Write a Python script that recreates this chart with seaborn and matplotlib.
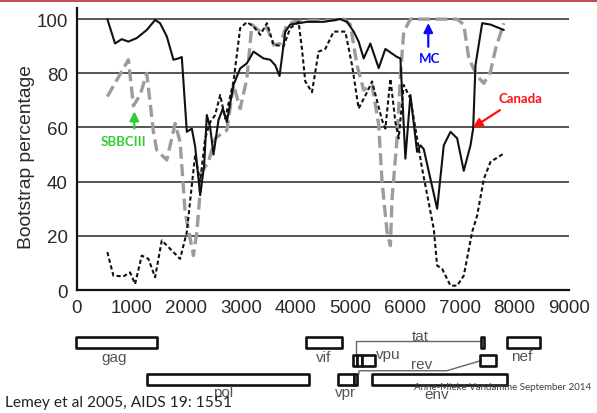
import matplotlib
matplotlib.use("Agg")
import matplotlib.pyplot as plt
import matplotlib.patches as mpatches
import pandas as pd
import seaborn as sns

# ---------------- data ----------------
solid_x = [555, 696, 818, 940, 1093, 1276, 1429, 1520, 1643, 1764, 1856, 1917, 2009,
           2100, 2161, 2253, 2326, 2375, 2436, 2497, 2588, 2668, 2741, 2863, 2985, 3108,
           3229, 3412, 3535, 3626, 3705, 3810, 3901, 4207, 4512, 4817, 4939, 5061, 5152,
           5244, 5366, 5519, 5641, 5855, 5916, 6007, 6099, 6221, 6282, 6343, 6588, 6709,
           6832, 6954, 7075, 7198, 7247, 7289, 7412, 7564, 7808]
solid_y = [100, 91, 92.6, 91.7, 93, 96, 99.7, 98.5, 93.6, 85, 85.5, 86, 58.4,
           59.6, 53, 35, 46, 64.6, 60, 50, 62.7, 67, 62, 75.7, 81.8, 83.7,
           88, 85.5, 85, 83, 79, 95.4, 98, 99, 99, 100, 99, 95.4, 91.7,
           85.5, 91, 81.9, 89, 86, 85.5, 48.5, 72, 51, 53.4, 52, 30, 53.4,
           58.4, 56, 44, 53.4, 59.6, 83, 98.5, 98, 96]

gray_x = [555, 940, 1032, 1154, 1276, 1398, 1459, 1643, 1795, 1886, 1978, 2130, 2192,
          2283, 2405, 2527, 2741, 2863, 2985, 3108, 3199, 3352, 3474, 3596, 3718, 3840,
          3962, 4300, 4600, 4878, 5000, 5122, 5244, 5397, 5519, 5580, 5672, 5733, 5763,
          5855, 5916, 5977, 6099, 6500, 6954, 7075, 7167, 7320, 7442, 7564, 7656, 7808]
gray_y = [71.4, 85, 68, 72, 80, 58.4, 51.6, 48, 61.5, 54.7, 28.8, 12.7, 21.4,
          43.6, 47.3, 56, 59, 75.7, 67, 78, 98, 95.4, 97, 90.5, 91, 98,
          99, 99.5, 99.5, 100, 98, 83, 73.8, 75.7, 61, 40, 21.4, 16.4, 33.7,
          56, 79, 95.4, 100, 100, 100, 98, 85.5, 79, 76.3, 80.6, 89, 98.5]

dot_x = [555, 665, 848, 971, 1062, 1185, 1306, 1429, 1551, 1886, 2009, 2100, 2161,
         2253, 2344, 2436, 2527, 2619, 2711, 2863, 2985, 3108, 3229, 3352, 3474, 3596,
         3778, 3901, 4053, 4115, 4176, 4298, 4420, 4542, 4695, 4908, 5031, 5152, 5306,
         5397, 5580, 5641, 5733, 5824, 5885, 5977, 6099, 6313, 6526, 6588, 6679, 6832,
         6954, 7075, 7228, 7320, 7442, 7564, 7808]
dot_y = [14, 5.3, 5, 6.5, 2.2, 12.7, 11.5, 4.7, 18.3, 11.5, 21.4, 38.6, 49.7,
         40, 56, 62, 64.6, 72, 63.3, 77, 96.7, 98.9, 97.3, 94.2, 98.5, 90.5,
         90, 96.7, 99, 89, 77, 73, 88, 89, 95.4, 95.4, 83, 67, 73,
         77, 62.7, 59.6, 78, 62, 56, 75.7, 70.7, 44.8, 22.6, 9, 7.8, 1.6,
         1.6, 5.3, 21.4, 27.5, 41, 47.3, 50.4]

x_ticks = [0, 1000, 2000, 3000, 4000, 5000, 6000, 7000, 8000, 9000]
y_ticks = [0, 20, 40, 60, 80, 100]
y_label = "Bootstrap percentage"

# genome map (HXB2-like positions), row index
gene_names = ["gag", "vif", "tat2", "nef", "tat1", "rev1", "vpu", "rev2",
              "pol", "vpr", "x3", "env"]
gene_start = [789, 5041, 8270, 8762, 5904, 5978, 6070, 8257, 2096, 5640, 5928, 6255]
gene_end = [2292, 5700, 8337, 9366, 5978, 6070, 6316, 8553, 5102, 5928, 5990, 8762]
gene_row = [0, 0, 0, 0, 1, 1, 1, 1, 2, 2, 2, 2]
gene_labels = ["gag", "vif", "nef", "tat", "vpu", "rev", "pol", "vpr", "env"]
gene_label_x = [1500, 5360, 9030, 7148, 6556, 7185, 3507, 5762, 7457]
gene_label_row = [0.78, 0.78, 0.72, -0.36, 0.65, 1.18, 2.67, 2.67, 2.78]

# annotations
ann_text = ["MC", "Canada", "SBBCIII"]
ann_color = ["#0a0aff", "#ff1010", "#33cc33"]
ann_text_xy = [(6457, 85.5), (8110, 70.7), (856, 55)]
ann_tail = [(6426, 89.8), (7737, 66.4), (1048, 59.6)]
ann_tip = [(6426, 98.6), (7238, 59.9), (1048, 66.0)]

citation = "Lemey et al 2005, AIDS 19: 1551"
watermark = "Anne-Mieke Vandamme September 2014"

# ---------------- style ----------------
sns.set_style("white")
plt.rcParams["font.family"] = ["Liberation Sans", "DejaVu Sans"]

W, H = 597, 414
fig = plt.figure(figsize=(W / 100, H / 100), dpi=100)

# top red band
fig.add_artist(mpatches.Rectangle((0, 1 - 2.7 / H), 1, 2.7 / H, transform=fig.transFigure,
                                  color="#c0504d", lw=0))

ax = fig.add_axes([77 / W, (H - 291) / H, (569 - 77) / W, (291 - 9.3) / H])

sns.lineplot(x=gray_x, y=gray_y, ax=ax, color="#9c9c9c", lw=2.4, estimator=None, sort=False,
             linestyle=(0, (3.6, 1.6)))
sns.lineplot(x=dot_x, y=dot_y, ax=ax, color="#111111", lw=1.5, estimator=None, sort=False,
             linestyle=(0, (2.0, 1.3)))
sns.lineplot(x=solid_x, y=solid_y, ax=ax, color="#111111", lw=1.5, estimator=None, sort=False)

ax.set_xlim(0, 9000)
ax.set_ylim(0, 104)
ax.set_xticks(x_ticks)
ax.set_yticks(y_ticks)
ax.set_xticklabels([str(t) for t in x_ticks])
ax.set_yticklabels([str(t) for t in y_ticks])
for yv in y_ticks[1:]:
    ax.axhline(yv, color="#3a3a3a", lw=1.2, zorder=0)
for s in ["top", "right"]:
    ax.spines[s].set_visible(False)
for s in ["left", "bottom"]:
    ax.spines[s].set_color("#111111")
    ax.spines[s].set_linewidth(1.6)
ax.tick_params(axis="both", direction="out", length=5, width=1.4, color="#111111",
               labelsize=13.5, labelcolor="#2a2a2a", pad=1.5)
ax.set_ylabel(y_label, fontsize=13.9, color="#2a2a2a")
ax.yaxis.set_label_coords(-0.085, 0.475)
ax.set_xlabel("")

for t, c, txy, tail, tip in zip(ann_text, ann_color, ann_text_xy, ann_tail, ann_tip):
    ax.annotate("", xy=tip, xytext=tail,
                arrowprops=dict(arrowstyle="-|>,head_length=0.55,head_width=0.27",
                                color=c, lw=1.6, shrinkA=0, shrinkB=0))
    ax.text(txy[0], txy[1], t, color=c, fontsize=9.5, fontweight="bold",
            family=["Lato", "DejaVu Sans"], ha="center", va="center")

# ---------------- genome map ----------------
gax = fig.add_axes([0, 0, 1, 89 / H])
gx0 = -33.3 / 0.0541
gax.set_xlim(gx0, gx0 + W / 0.0541)
row_px = 18.6
gax.set_ylim((414 - 343.3) / row_px, (325 - 343.3) / row_px)
gax.axis("off")
bh = 11 / row_px
for s, e, r in zip(gene_start, gene_end, gene_row):
    gax.broken_barh([(s, e - s)], (r - bh / 2, bh), facecolors="white",
                    edgecolors="#111111", linewidth=1.9, zorder=3)

# tat / rev splice connectors
gax.plot([5965, 5965, 8270], [1 - bh / 2, -0.06, -0.06], color="#666666", lw=1.0, zorder=2)
gax.plot([6020, 6020, 7641, 8257], [2 - bh / 2, 1.53, 1.53, 1.0], color="#666666", lw=1.0,
         zorder=2)

for lab, lx, ly in zip(gene_labels, gene_label_x, gene_label_row):
    gax.text(lx, ly, lab, fontsize=11, color="#555555", ha="center", va="center")

fig.text(5 / W, (H - 403) / H, citation, fontsize=11.2, color="#222222",
         family=["Lato", "DejaVu Sans"], va="center", ha="left")
fig.text(591 / W, (H - 388) / H, watermark, fontsize=7, color="#404040",
         family=["Lato", "DejaVu Sans"], va="center", ha="right")

fig.savefig("out.png", dpi=100)
